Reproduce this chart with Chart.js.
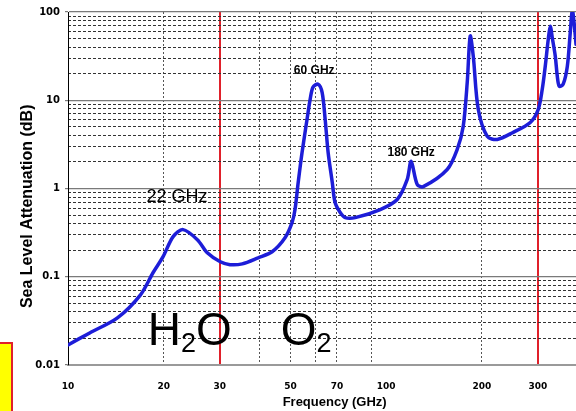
<!DOCTYPE html>
<html>
<head>
<meta charset="utf-8">
<script src="https://cdn.jsdelivr.net/npm/chart.js@4.4.1/dist/chart.umd.min.js"></script>
<style>
  html, body { margin: 0; padding: 0; background: #fff; }
  #wrap { position: relative; width: 576px; height: 411px; overflow: hidden; }
  #tag { position: absolute; left: -2px; top: 342px; width: 11px; height: 80px; background: #ffff00; border: 2px solid #e0202a; }
</style>
</head>
<body>
<div id="wrap">
  <canvas id="c" width="576" height="411"></canvas>
  <div id="tag"></div>
</div>
<script>
// frequency (GHz) / sea level attenuation (dB)
const freqs = [10, 11.7, 14.3, 16.9, 18.5, 19.9, 21.4, 23.0, 25.5, 27.4, 30.1, 32.3, 35.3, 39.6, 43.8, 48.1, 50.6,
               51.7, 52.9, 54.4, 56.4, 57.7, 58.9, 61.1, 62.9, 64.3, 65.7, 67.7, 69.1, 71.7, 74.3, 79.9, 95.8,
               108.3, 116.4, 119.8, 125.2, 130.8, 155.5, 167.2, 174.6, 179.8, 183.7, 187.8, 194.7, 207.8, 223.4,
               250.8, 283.7, 300.6, 309.4, 316.2, 323.2, 327.9, 333, 340, 345, 350, 360, 371, 379, 384.6, 390, 395];
const atten = [0.0169, 0.0231, 0.0342, 0.0624, 0.111, 0.169, 0.285, 0.342, 0.263, 0.187, 0.148, 0.137, 0.14, 0.164, 0.192, 0.277, 0.41,
               0.577, 1.17, 2.56, 6.08, 10.3, 14.1, 15.2, 12.3, 6.08, 2.56, 1.17, 0.693, 0.534, 0.468, 0.468, 0.577,
               0.75, 1.26, 2.03, 1.11, 1.05, 1.64, 2.77, 5.04, 16.0, 53.3, 31.6, 7.9, 3.9, 3.6,
               4.33, 5.6, 7.9, 13.3, 24.3, 49.3, 69, 50, 31.6, 18.7, 14.4, 15.2, 24.3, 59, 105, 73, 43];

const xTickLabels = [10, 20, 30, 50, 70, 100, 200, 300];
const xDashedLines = [20, 40, 50, 60, 70, 90, 200];
const markerFreqs = [30, 300];

const yDecades = [0.01, 0.1, 1, 10, 100];
const yDecadeLabels = ['0.01', '0.1', '1', '10', '100'];
const yMinorLines = [0.02, 0.03, 0.04, 0.05, 0.06, 0.07, 0.08, 0.09,
                     0.2, 0.3, 0.4, 0.5, 0.6, 0.7, 0.8, 0.9,
                     2, 3, 4, 5, 6, 7, 8, 9,
                     20, 30, 40, 50, 60, 70, 80, 90];

const peakLabels = [
  { text: '22 GHz', f: 22.0, v: 0.81, font: '18px "Liberation Sans", Arial' },
  { text: '60 GHz', f: 59.4, v: 21.4, font: 'bold 12px "Liberation Sans", Arial' },
  { text: '180 GHz', f: 119.8, v: 2.56, font: 'bold 12px "Liberation Sans", Arial' }
];
const gasLabels = [
  { parts: [['H', false], ['2', true], ['O', false]], f: 17.8, v: 0.01687 },
  { parts: [['O', false], ['2', true]], f: 46.6, v: 0.01687 }
];

const FONT = '"Liberation Sans", Arial, sans-serif';

const labelPlugin = {
  id: 'labels',
  afterDatasetsDraw(chart) {
    const { ctx, scales: { x, y } } = chart;
    ctx.save();
    ctx.fillStyle = '#000';
    peakLabels.forEach(l => {
      ctx.font = l.font;
      ctx.textAlign = 'center';
      ctx.textBaseline = 'middle';
      ctx.fillText(l.text, x.getPixelForValue(l.f), y.getPixelForValue(l.v));
    });
    gasLabels.forEach(g => {
      let px = x.getPixelForValue(g.f);
      const py = y.getPixelForValue(g.v);
      ctx.textAlign = 'left';
      ctx.textBaseline = 'alphabetic';
      g.parts.forEach(([txt, sub]) => {
        ctx.font = (sub ? '27px ' : '46px ') + FONT;
        ctx.fillText(txt, px, py + (sub ? 7 : 0));
        px += ctx.measureText(txt).width;
      });
    });
    ctx.restore();
  }
};

Chart.defaults.color = '#000';

// extra axes that only carry grid lines (no labels, no size)
const gridOnly = (axisType, values, color, width, dash) => ({
  type: 'logarithmic', position: axisType === 'x' ? 'bottom' : 'left',
  min: axisType === 'x' ? 10 : 0.01, max: axisType === 'x' ? 395 : 100,
  afterBuildTicks: s => { s.ticks = values.map(v => ({ value: v })); },
  ticks: { display: false },
  grid: { drawTicks: false, color: color, lineWidth: width },
  border: { display: false, dash: dash }
});

new Chart(document.getElementById('c'), {
  type: 'line',
  data: {
    datasets: [{
      data: freqs.map((f, i) => ({ x: f, y: atten[i] })),
      borderColor: '#1d1dd8',
      borderWidth: 3.5,
      pointRadius: 0,
      tension: 0.3,
      borderJoinStyle: 'round',
      borderCapStyle: 'round',
      fill: false
    }]
  },
  options: {
    responsive: false,
    animation: false,
    devicePixelRatio: 1,
    layout: { padding: { top: 12, right: 0, left: 0, bottom: 0 } },
    plugins: { legend: { display: false }, tooltip: { enabled: false } },
    scales: {
      x: {
        type: 'logarithmic', position: 'bottom', min: 10, max: 395,
        afterBuildTicks: s => { s.ticks = xTickLabels.map(v => ({ value: v })); },
        afterFit: s => { s.height = 46; },
        ticks: {
          autoSkip: false, maxRotation: 0, minRotation: 0, padding: 8,
          font: { family: '"DejaVu Sans"', size: 9, weight: 'bold' },
          callback: v => String(v)
        },
        grid: { display: false },
        border: { color: '#9a9a9a', width: 2 },
        title: {
          display: true, text: '\u00a0\u00a0\u00a0\u00a0\u00a0\u00a0\u00a0Frequency (GHz)',
          font: { family: FONT, size: 13, weight: 'bold' }, padding: { top: 0, bottom: 1 }
        }
      },
      xGrid: gridOnly('x', xDashedLines, '#555', 1, [2, 2]),
      xMark: gridOnly('x', markerFreqs, '#e0202a', 2, []),
      y: {
        type: 'logarithmic', position: 'left', min: 0.01, max: 100,
        afterBuildTicks: s => { s.ticks = yDecades.map(v => ({ value: v })); },
        afterFit: s => { s.width = 68; },
        ticks: {
          autoSkip: false, padding: 5,
          font: { family: '"DejaVu Sans"', size: 10, weight: 'bold' },
          callback: (v, i) => yDecadeLabels[i]
        },
        grid: { color: '#7a7a7a', lineWidth: 1.2, tickLength: 3 },
        border: { color: '#000', width: 1 },
        title: {
          display: true, text: 'Sea Level Attenuation (dB)\u00a0\u00a0\u00a0\u00a0\u00a0\u00a0\u00a0\u00a0',
          font: { family: FONT, size: 16, weight: 'bold' }, padding: { top: 18, bottom: 0 }
        }
      },
      yMinor: gridOnly('y', yMinorLines, '#333', 1, [3, 2])
    }
  },
  plugins: [labelPlugin]
});
</script>
</body>
</html>
